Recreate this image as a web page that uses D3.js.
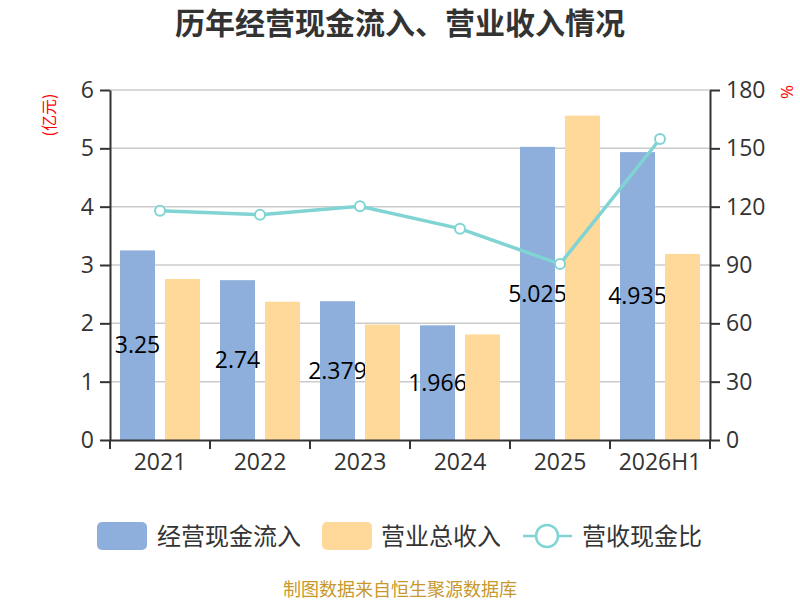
<!DOCTYPE html>
<html>
<head>
<meta charset="utf-8">
<script src="https://cdn.jsdelivr.net/npm/d3@7"></script>
<style>
  body { margin: 0; background: #fff; }
  text { font-family: "Open Sans", "Noto Sans CJK SC", sans-serif; }
  .cjk { font-family: "Noto Sans CJK SC", sans-serif; }
</style>
</head>
<body>
<svg id="chart" width="800" height="600"></svg>
<script>
// categories and series
var years = ["2021", "2022", "2023", "2024", "2025", "2026H1"];
var cashIn = [3.25, 2.74, 2.379, 1.966, 5.025, 4.935];     // 经营现金流入 (亿元)
var revenue = [2.76, 2.37, 1.98, 1.81, 5.56, 3.19];        // 营业总收入 (亿元)
var ratio = [117.9, 115.9, 120.2, 108.7, 90.5, 154.8];      // 营收现金比 (%)
var leftTicks = [0, 1, 2, 3, 4, 5, 6];
var rightTicks = [0, 30, 60, 90, 120, 150, 180];

var blue = "#8eaedb", yellow = "#fed999", teal = "#80d4d4";

var svg = d3.select("#chart");

var x = d3.scaleBand()
  .domain(years)
  .range([110, 710]);

var sub = d3.scaleBand()
  .domain(["cash", "rev"])
  .range([10, 90])
  .paddingInner(0.222);

var y = d3.scaleLinear()
  .domain([0, 6])
  .range([440, 90]);

var y2 = d3.scaleLinear()
  .domain([0, 180])
  .range([440, 90]);

// grid
svg.append("g")
  .selectAll("line")
  .data(leftTicks.slice(1))
  .enter().append("line")
  .attr("x1", 110).attr("x2", 710)
  .attr("y1", function(d){ return y(d); })
  .attr("y2", function(d){ return y(d); })
  .attr("stroke", "#cccccc")
  .attr("stroke-width", 1.5);

// blue bars
svg.append("g")
  .selectAll("rect")
  .data(cashIn)
  .enter().append("rect")
  .attr("x", function(d, i){ return x(years[i]) + sub("cash"); })
  .attr("y", function(d){ return y(d); })
  .attr("width", sub.bandwidth())
  .attr("height", function(d){ return y(0) - y(d); })
  .attr("fill", blue);

// value labels (drawn under the yellow bars, like the reference)
svg.append("g")
  .selectAll("text")
  .data(cashIn)
  .enter().append("text")
  .attr("x", function(d, i){ return x(years[i]) + sub("cash") + sub.bandwidth() / 2; })
  .attr("y", function(d){ return (y(d) + y(0)) / 2; })
  .attr("dy", "0.36em")
  .attr("text-anchor", "middle")
  .attr("font-size", 23)
  .attr("fill", "#000")
  .text(function(d){ return d; });

// yellow bars
svg.append("g")
  .selectAll("rect")
  .data(revenue)
  .enter().append("rect")
  .attr("x", function(d, i){ return x(years[i]) + sub("rev"); })
  .attr("y", function(d){ return y(d); })
  .attr("width", sub.bandwidth())
  .attr("height", function(d){ return y(0) - y(d); })
  .attr("fill", yellow);

// axes
var xAxis = d3.axisBottom(x).tickSize(0).tickPadding(14);
var gx = svg.append("g")
  .attr("transform", "translate(0,440)")
  .call(xAxis);
gx.select(".domain").attr("stroke", "#333").attr("stroke-width", 2);
gx.selectAll(".tick text").attr("font-size", 23).attr("fill", "#333");
gx.selectAll(".band-tick")
  .data(years.concat(["end"]))
  .enter().append("line")
  .attr("x1", function(d, i){ return 110 + i * x.step(); })
  .attr("x2", function(d, i){ return 110 + i * x.step(); })
  .attr("y1", 0).attr("y2", 9)
  .attr("stroke", "#333").attr("stroke-width", 2);

var gy = svg.append("g")
  .attr("transform", "translate(110,0)")
  .call(d3.axisLeft(y).tickValues(leftTicks).tickFormat(d3.format("d"))
    .tickSize(10).tickPadding(6).tickSizeOuter(0));
gy.select(".domain").attr("stroke", "#333").attr("stroke-width", 2);
gy.selectAll(".tick line").attr("stroke", "#333").attr("stroke-width", 2);
gy.selectAll(".tick text").attr("font-size", 23).attr("fill", "#333");

var gy2 = svg.append("g")
  .attr("transform", "translate(710,0)")
  .call(d3.axisRight(y2).tickValues(rightTicks).tickFormat(d3.format("d"))
    .tickSize(10).tickPadding(6).tickSizeOuter(0));
gy2.select(".domain").attr("stroke", "#333").attr("stroke-width", 2);
gy2.selectAll(".tick line").attr("stroke", "#333").attr("stroke-width", 2);
gy2.selectAll(".tick text").attr("font-size", 23).attr("fill", "#333");

// ratio line
var line = d3.line()
  .x(function(d, i){ return x(years[i]) + x.bandwidth() / 2; })
  .y(function(d){ return y2(d); });

svg.append("path")
  .datum(ratio)
  .attr("d", line)
  .attr("fill", "none")
  .attr("stroke", teal)
  .attr("stroke-width", 3.5);

svg.append("g")
  .selectAll("circle")
  .data(ratio)
  .enter().append("circle")
  .attr("cx", function(d, i){ return x(years[i]) + x.bandwidth() / 2; })
  .attr("cy", function(d){ return y2(d); })
  .attr("r", 5)
  .attr("fill", "#fff")
  .attr("stroke", teal)
  .attr("stroke-width", 2);

// unit labels
svg.append("text")
  .attr("class", "cjk")
  .attr("transform", "translate(49,115) rotate(-90)")
  .attr("text-anchor", "middle")
  .attr("dy", "0.35em")
  .attr("font-size", 16)
  .attr("fill", "#ff0000")
  .text("(亿元)");

svg.append("text")
  .attr("transform", "translate(787,92) rotate(-90)")
  .attr("text-anchor", "middle")
  .attr("dy", "0.35em")
  .attr("font-size", 17)
  .attr("fill", "#ff0000")
  .text("%");

// title
svg.append("text")
  .attr("class", "cjk")
  .attr("x", 400).attr("y", 34)
  .attr("text-anchor", "middle")
  .attr("font-size", 30)
  .attr("font-weight", "bold")
  .attr("fill", "#333")
  .text("历年经营现金流入、营业收入情况");

// legend
var legend = svg.append("g").attr("class", "cjk");

legend.append("rect")
  .attr("x", 97).attr("y", 522).attr("width", 50).attr("height", 28)
  .attr("rx", 5).attr("fill", blue);
legend.append("text")
  .attr("class", "cjk")
  .attr("x", 157).attr("y", 536).attr("dy", "0.36em")
  .attr("font-size", 24).attr("fill", "#333")
  .text("经营现金流入");

legend.append("rect")
  .attr("x", 322).attr("y", 522).attr("width", 50).attr("height", 28)
  .attr("rx", 5).attr("fill", yellow);
legend.append("text")
  .attr("class", "cjk")
  .attr("x", 381).attr("y", 536).attr("dy", "0.36em")
  .attr("font-size", 24).attr("fill", "#333")
  .text("营业总收入");

legend.append("line")
  .attr("x1", 523).attr("x2", 572).attr("y1", 536).attr("y2", 536)
  .attr("stroke", teal).attr("stroke-width", 2.5);
legend.append("circle")
  .attr("cx", 547).attr("cy", 536).attr("r", 11)
  .attr("fill", "#fff").attr("stroke", teal).attr("stroke-width", 2.5);
legend.append("text")
  .attr("class", "cjk")
  .attr("x", 582).attr("y", 536).attr("dy", "0.36em")
  .attr("font-size", 24).attr("fill", "#333")
  .text("营收现金比");

// footer
svg.append("text")
  .attr("class", "cjk")
  .attr("x", 400).attr("y", 590).attr("dy", "0.36em")
  .attr("text-anchor", "middle")
  .attr("font-size", 18)
  .attr("fill", "#c8982c")
  .text("制图数据来自恒生聚源数据库");
</script>
</body>
</html>
